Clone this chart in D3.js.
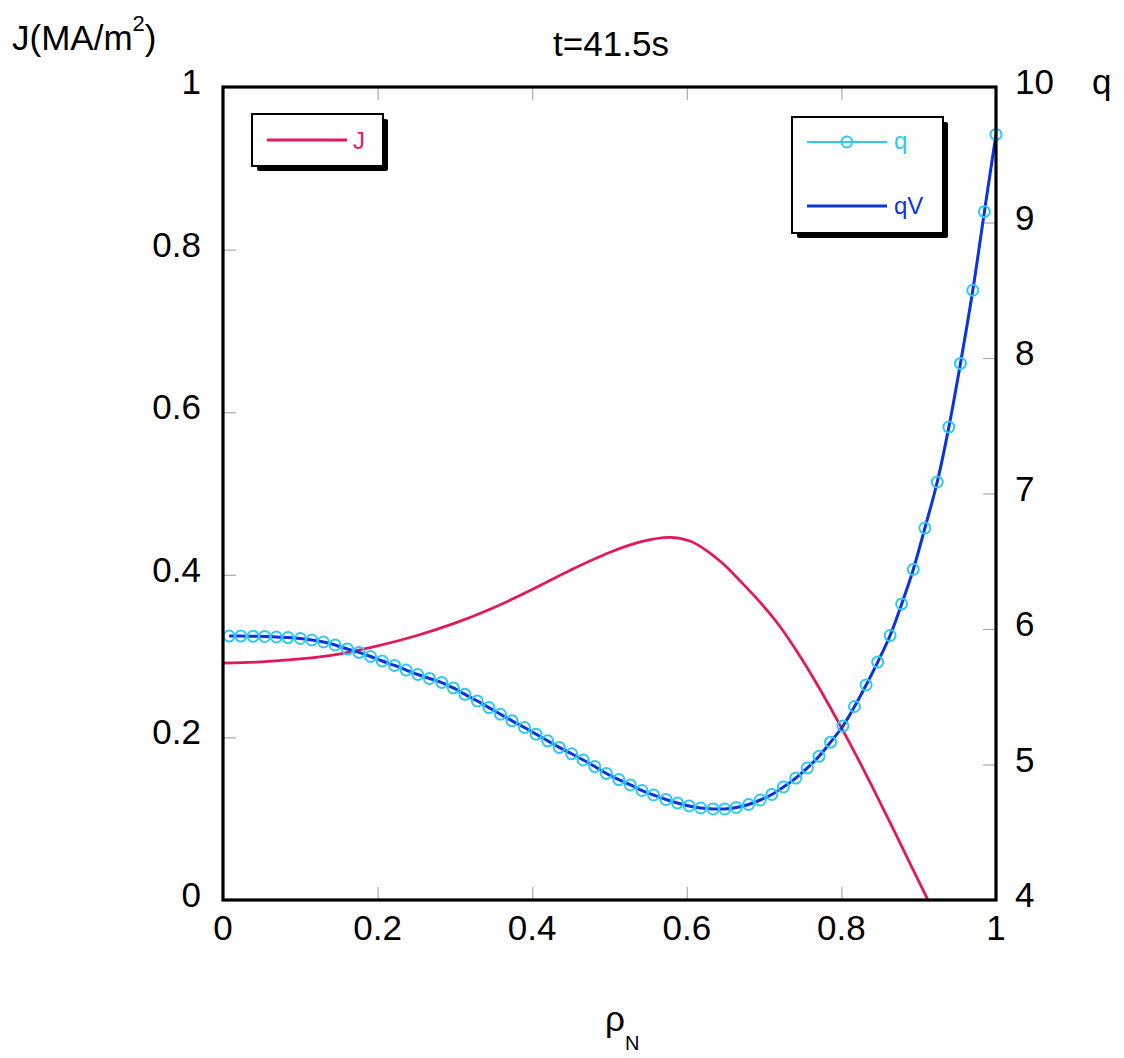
<!DOCTYPE html>
<html>
<head>
<meta charset="utf-8">
<script src="https://cdn.jsdelivr.net/npm/d3@7"></script>
<style>
  html, body { margin: 0; padding: 0; background: #fff; }
  svg { display: block; }
  text { font-family: "Liberation Sans", Arial, Helvetica, sans-serif; fill: #000; }
</style>
</head>
<body>
<svg id="chart" width="1124" height="1058"></svg>
<script>
// ---------------- data ----------------
const title = "t=41.5s";
const xTicks = [0, 0.2, 0.4, 0.6, 0.8, 1];
const xTickLabels = ["0", "0.2", "0.4", "0.6", "0.8", "1"];
const jTicks = [0, 0.2, 0.4, 0.6, 0.8, 1];
const jTickLabels = ["0", "0.2", "0.4", "0.6", "0.8", "1"];
const qTicks = [4, 5, 6, 7, 8, 9, 10];
const qTickLabels = ["4", "5", "6", "7", "8", "9", "10"];

// J profile (MA/m^2) vs rho_N
const rhoJ = [0, 0.05, 0.10, 0.15, 0.20, 0.25, 0.30, 0.35, 0.40, 0.45, 0.50, 0.54, 0.578, 0.604, 0.626, 0.647, 0.669, 0.695, 0.72, 0.745, 0.77, 0.80, 0.83, 0.86, 0.89, 0.912, 0.95, 1.0];
const valJ = [0.2915, 0.293, 0.2965, 0.3025, 0.3125, 0.325, 0.3405, 0.3595, 0.3820, 0.406, 0.4275, 0.4405, 0.446, 0.4415, 0.4295, 0.4135, 0.3925, 0.366, 0.337, 0.302, 0.263, 0.212, 0.158, 0.101, 0.0425, 0.000, -0.077, -0.180];

// q profile (markers) and qV (line), same grid
const rhoQ = [0.008, 0.023, 0.039, 0.054, 0.069, 0.084, 0.100, 0.115, 0.130, 0.145, 0.161, 0.176, 0.191, 0.206, 0.222, 0.237, 0.252, 0.267, 0.283, 0.298, 0.313, 0.329, 0.344, 0.359, 0.374, 0.390, 0.405, 0.420, 0.435, 0.451, 0.466, 0.481, 0.496, 0.512, 0.527, 0.542, 0.557, 0.573, 0.588, 0.603, 0.618, 0.634, 0.649, 0.664, 0.680, 0.695, 0.710, 0.725, 0.741, 0.756, 0.771, 0.786, 0.802, 0.817, 0.832, 0.847, 0.863, 0.878, 0.893, 0.908, 0.924, 0.939, 0.954, 0.970, 0.985, 1.000];
const valQ = [5.948, 5.948, 5.946, 5.945, 5.941, 5.937, 5.930, 5.919, 5.904, 5.882, 5.852, 5.827, 5.797, 5.764, 5.731, 5.697, 5.664, 5.635, 5.605, 5.565, 5.518, 5.469, 5.420, 5.371, 5.322, 5.273, 5.224, 5.175, 5.126, 5.079, 5.033, 4.985, 4.934, 4.889, 4.849, 4.808, 4.775, 4.742, 4.716, 4.694, 4.679, 4.672, 4.672, 4.683, 4.705, 4.738, 4.779, 4.834, 4.900, 4.975, 5.060, 5.165, 5.284, 5.428, 5.587, 5.756, 5.952, 6.185, 6.439, 6.745, 7.085, 7.490, 7.960, 8.500, 9.080, 9.650];
const valQV = valQ.slice();

// ---------------- layout ----------------
const W = 1124, H = 1058;
const L = 223, R = 996, T = 87, B = 900;
const colJ = "#e2185e", colQ = "#2ec8f6", colQV = "#0c33e0";
const FS = 35;

const svg = d3.select("#chart");
svg.append("rect").attr("width", W).attr("height", H).attr("fill", "#fff");

const x = d3.scaleLinear().domain([0, 1]).range([L, R]);
const yJ = d3.scaleLinear().domain([0, 1]).range([B, T]);
const yQ = d3.scaleLinear().domain([4, 10]).range([B, T]);

svg.append("defs").append("clipPath").attr("id", "clip")
  .append("rect").attr("x", L).attr("y", T).attr("width", R - L).attr("height", B - T);

// inner gray ticks via d3 axes
const tickCol = "#aaa", tickLen = 13;
function styleAxis(g) {
  g.select(".domain").remove();
  g.selectAll(".tick line").attr("stroke", tickCol).attr("stroke-width", 1.2);
  g.selectAll(".tick text").remove();
}
const innerX = xTicks.filter(v => v > 0 && v < 1);
svg.append("g").attr("transform", `translate(0,${B})`)
  .call(d3.axisTop(x).tickValues(innerX).tickSize(tickLen)).call(styleAxis);
svg.append("g").attr("transform", `translate(0,${T})`)
  .call(d3.axisBottom(x).tickValues(innerX).tickSize(tickLen)).call(styleAxis);
svg.append("g").attr("transform", `translate(${L},0)`)
  .call(d3.axisRight(yJ).tickValues(jTicks.filter(v => v > 0 && v < 1)).tickSize(tickLen)).call(styleAxis);
svg.append("g").attr("transform", `translate(${R},0)`)
  .call(d3.axisLeft(yQ).tickValues(qTicks.filter(v => v > 4 && v < 10)).tickSize(tickLen)).call(styleAxis);

// tick labels
svg.append("g").selectAll("text").data(xTicks).join("text")
  .attr("x", d => x(d)).attr("y", B + 40).attr("text-anchor", "middle")
  .attr("font-size", FS).text((d, i) => xTickLabels[i]);
svg.append("g").selectAll("text").data(jTicks).join("text")
  .attr("x", L - 22).attr("y", d => yJ(d) + 7).attr("text-anchor", "end")
  .attr("font-size", FS).text((d, i) => jTickLabels[i]);
svg.append("g").selectAll("text").data(qTicks).join("text")
  .attr("x", R + 19).attr("y", d => yQ(d) + 7).attr("text-anchor", "start")
  .attr("font-size", FS).text((d, i) => qTickLabels[i]);

// axis titles
svg.append("text").attr("x", 1092).attr("y", yQ(10) + 7).attr("font-size", FS).text("q");
const jl = svg.append("text").attr("x", 12).attr("y", 50).attr("font-size", FS);
jl.append("tspan").text("J(MA/m");
jl.append("tspan").attr("font-size", 22).attr("dy", -19).text("2");
jl.append("tspan").attr("dy", 19).text(")");
svg.append("text").attr("x", 611).attr("y", 56).attr("text-anchor", "middle").attr("font-size", FS).text(title);
const xl = svg.append("text").attr("x", 605).attr("y", 1031).attr("font-size", FS);
xl.append("tspan").text("ρ");
xl.append("tspan").attr("font-size", 20).attr("dy", 19).text("N");

// curves
const plot = svg.append("g").attr("clip-path", "url(#clip)");
const lineJ = d3.line().x((d, i) => x(rhoJ[i])).y(d => yJ(d)).curve(d3.curveCatmullRom);
const lineQ = d3.line().x((d, i) => x(rhoQ[i])).y(d => yQ(d)).curve(d3.curveCatmullRom);

plot.append("path").datum(valJ).attr("d", lineJ).attr("fill", "none")
  .attr("stroke", colJ).attr("stroke-width", 2.8);
plot.append("path").datum(valQ).attr("d", lineQ).attr("fill", "none")
  .attr("stroke", colQ).attr("stroke-width", 2);
svg.append("g").selectAll("circle").data(valQ).join("circle")
  .attr("cx", (d, i) => x(rhoQ[i])).attr("cy", d => yQ(d)).attr("r", 5.5)
  .attr("fill", "none").attr("stroke", colQ).attr("stroke-width", 2);
plot.append("path").datum(valQV).attr("d", lineQ).attr("fill", "none")
  .attr("stroke", colQV).attr("stroke-width", 3);

// frame
svg.append("rect").attr("x", L).attr("y", T).attr("width", R - L).attr("height", B - T)
  .attr("fill", "none").attr("stroke", "#000").attr("stroke-width", 3.2);

// legends
function legendBox(x0, y0, w, h) {
  svg.append("rect").attr("x", x0 + 5).attr("y", y0 + 5).attr("width", w).attr("height", h)
    .attr("fill", "#000").attr("rx", 2);
  svg.append("rect").attr("x", x0).attr("y", y0).attr("width", w).attr("height", h)
    .attr("fill", "#fff").attr("stroke", "#000").attr("stroke-width", 2);
}
legendBox(252, 114, 131, 52);
svg.append("line").attr("x1", 267).attr("x2", 347).attr("y1", 140).attr("y2", 140)
  .attr("stroke", colJ).attr("stroke-width", 2.8);
svg.append("text").attr("x", 353).attr("y", 149).attr("font-size", 24).style("fill", colJ).text("J");

legendBox(792, 117, 151, 116);
svg.append("line").attr("x1", 807).attr("x2", 887).attr("y1", 142).attr("y2", 142)
  .attr("stroke", colQ).attr("stroke-width", 2);
svg.append("circle").attr("cx", 847).attr("cy", 142).attr("r", 5.5)
  .attr("fill", "none").attr("stroke", colQ).attr("stroke-width", 2);
svg.append("text").attr("x", 894).attr("y", 149).attr("font-size", 24).style("fill", colQ).text("q");
svg.append("line").attr("x1", 807).attr("x2", 887).attr("y1", 206).attr("y2", 206)
  .attr("stroke", colQV).attr("stroke-width", 2.8);
svg.append("text").attr("x", 894).attr("y", 214).attr("font-size", 24).style("fill", colQV).text("qV");
</script>
</body>
</html>
